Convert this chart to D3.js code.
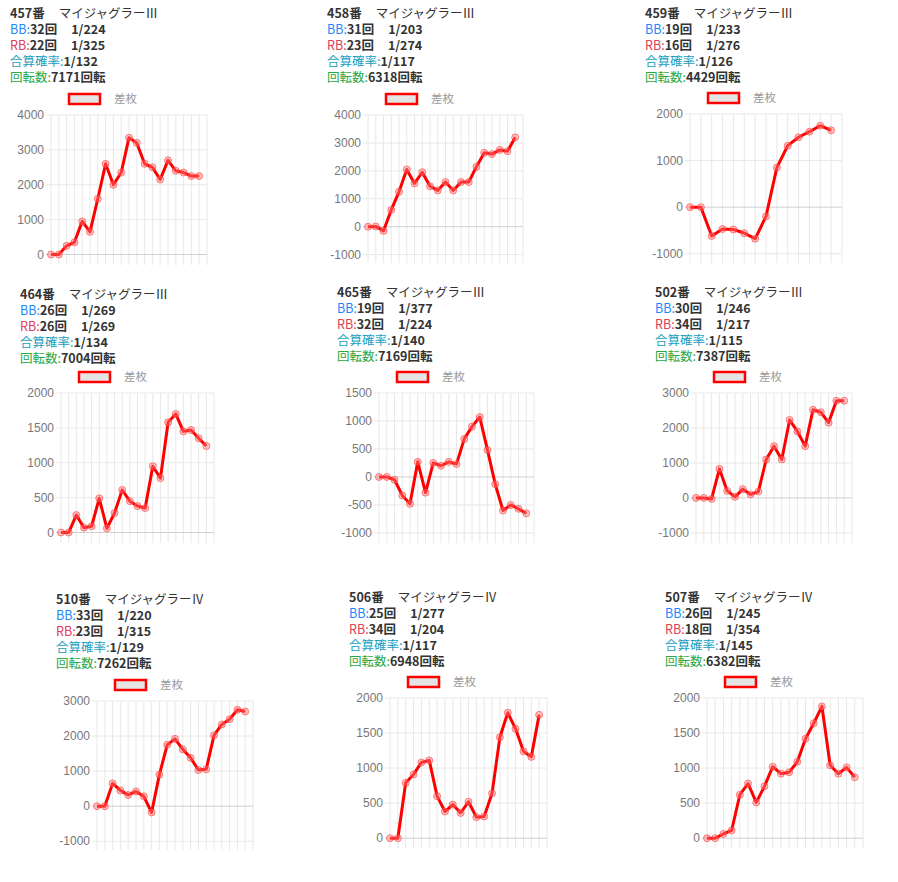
<!DOCTYPE html>
<html><head><meta charset="utf-8">
<script src="https://cdn.jsdelivr.net/npm/d3@7"></script>
<style>body{margin:0;background:#fff;font-family:"Noto Sans CJK JP","Noto Sans",sans-serif;}</style>
</head><body><svg id="c" width="898" height="882"></svg>
<script>
const machines = ["457番","458番","459番","464番","465番","502番","510番","506番","507番"];
const models = ["マイジャグラーⅢ","マイジャグラーⅢ","マイジャグラーⅢ","マイジャグラーⅢ","マイジャグラーⅢ","マイジャグラーⅢ","マイジャグラーⅣ","マイジャグラーⅣ","マイジャグラーⅣ"];
const bbCounts = [32,31,19,26,19,30,33,25,26];
const bbRates = ["1/224","1/203","1/233","1/269","1/377","1/246","1/220","1/277","1/245"];
const rbCounts = [22,23,16,26,32,34,23,34,18];
const rbRates = ["1/325","1/274","1/276","1/269","1/224","1/217","1/315","1/204","1/354"];
const totalRates = ["1/132","1/117","1/126","1/134","1/140","1/115","1/129","1/117","1/145"];
const spins = [7171,6318,4429,7004,7169,7387,7262,6948,6382];

const s457 = [0,0,250,350,950,650,1600,2600,2000,2350,3350,3200,2600,2500,2150,2700,2400,2350,2250,2250];
const s458 = [0,10,-150,600,1250,2050,1550,1950,1450,1300,1600,1300,1600,1600,2150,2650,2600,2750,2700,3200];
const s459 = [0,0,-620,-470,-480,-560,-680,-200,850,1320,1500,1620,1750,1650];
const s464 = [0,0,250,70,90,490,60,280,610,450,380,350,950,780,1580,1700,1450,1470,1350,1240];
const s465 = [0,0,-50,-330,-480,270,-280,250,200,270,230,680,900,1070,480,-130,-600,-500,-570,-650];
const s502 = [0,0,-30,830,200,30,250,100,180,1100,1480,1100,2230,1900,1480,2520,2450,2150,2780,2780];
const s510 = [0,0,650,450,320,420,280,-180,900,1750,1920,1620,1380,1030,1050,2020,2330,2480,2750,2700];
const s506 = [0,0,790,910,1080,1110,600,380,480,360,520,300,310,640,1440,1790,1560,1240,1160,1760];
const s507 = [0,0,60,110,620,780,510,740,1020,920,940,1090,1420,1640,1880,1040,920,1010,870];
const series = [s457,s458,s459,s464,s465,s502,s510,s506,s507];
const yMax = [4000,4000,2000,2000,1500,3000,3000,2000,2000];
const yMin = [-300,-1300,-1200,-150,-1180,-1290,-1250,-140,-140];
const yStep = [1000,1000,1000,500,500,1000,1000,500,500];
const legendLabel = "差枚";

const layout = [
 {tx:10,ty:18,l:51,r:207,t:115,b:265},
 {tx:327,ty:18,l:368,r:523,t:115,b:263},
 {tx:645,ty:18,l:690,r:842,t:114,b:263},
 {tx:20,ty:299,l:61,r:214,t:393,b:543},
 {tx:337,ty:297,l:379,r:534,t:393,b:543},
 {tx:655,ty:297,l:696,r:852,t:393,b:543},
 {tx:56,ty:604,l:97,r:253,t:701,b:850},
 {tx:349,ty:602,l:390,r:547,t:698,b:848},
 {tx:665,ty:602,l:707,r:863,t:698,b:848}
];
const svg = d3.select("#c");
series.forEach((data,i)=>{
  const L = layout[i];
  const g = svg.append("g");
  const fs = 12.5;
  // write a line as separate text pieces placed one after another
  const line = (k, parts)=>{
    let cx = L.tx;
    parts.forEach(p=>{
      const t = g.append("text").attr("x",cx+(p.gap||0)).attr("y",L.ty+k*16).attr("font-size",fs)
        .attr("fill",p.c||"#333").attr("font-weight",p.b?"bold":"normal").text(p.s);
      cx = cx+(p.gap||0)+t.node().getComputedTextLength();
    });
  };
  line(0,[{s:machines[i],b:1},{s:models[i],gap:14}]);
  line(1,[{s:"BB:",c:"#1e88ff"},{s:bbCounts[i]+"回",b:1},{s:bbRates[i],b:1,gap:14}]);
  line(2,[{s:"RB:",c:"#e0405a"},{s:rbCounts[i]+"回",b:1},{s:rbRates[i],b:1,gap:14}]);
  line(3,[{s:"合算確率:",c:"#1ca0c0"},{s:totalRates[i],b:1}]);
  line(4,[{s:"回転数:",c:"#28a745"},{s:spins[i]+"回転",b:1}]);

  g.append("rect").attr("x",L.l+18).attr("y",L.t-21).attr("width",31).attr("height",10)
    .attr("fill","#e4e4e4").attr("stroke","#f00").attr("stroke-width",2.5);
  g.append("text").attr("x",L.l+63).attr("y",L.t-12).attr("font-size",11.5).attr("fill","#999").text(legendLabel);

  const labels = d3.range(data.length+1);
  const x = d3.scalePoint().domain(labels).range([L.l, L.r]);
  const y = d3.scaleLinear().domain([yMin[i], yMax[i]]).range([L.b, L.t]);
  const ticks = d3.range(Math.ceil(yMin[i]/yStep[i])*yStep[i], yMax[i]+1, yStep[i]);
  g.append("g").selectAll("line").data(labels).join("line")
    .attr("x1",d=>x(d)).attr("x2",d=>x(d)).attr("y1",L.t).attr("y2",L.b)
    .attr("stroke","#e8e8e8").attr("stroke-width",1);
  g.append("g").selectAll("line").data(ticks).join("line")
    .attr("x1",L.l-5).attr("x2",L.r).attr("y1",d=>y(d)).attr("y2",d=>y(d))
    .attr("stroke",d=>d===0?"#cfcfcf":"#e8e8e8").attr("stroke-width",1);
  g.append("g").selectAll("text").data(ticks).join("text")
    .attr("x",L.l-7).attr("y",d=>y(d)+4).attr("text-anchor","end")
    .attr("font-size",12).attr("fill","#777").attr("font-family","Liberation Sans, Arial, sans-serif")
    .text(d=>d);
  const ln = d3.line().x((d,j)=>x(j)).y(d=>y(d));
  g.append("path").datum(data).attr("d",ln).attr("fill","none").attr("stroke","#f00").attr("stroke-width",3).attr("stroke-linejoin","round");
  g.append("g").selectAll("circle").data(data).join("circle")
    .attr("cx",(d,j)=>x(j)).attr("cy",d=>y(d)).attr("r",3.5)
    .attr("fill","rgba(255,120,120,0.45)").attr("stroke","rgba(255,60,60,0.6)").attr("stroke-width",1);
});
</script></body></html>
